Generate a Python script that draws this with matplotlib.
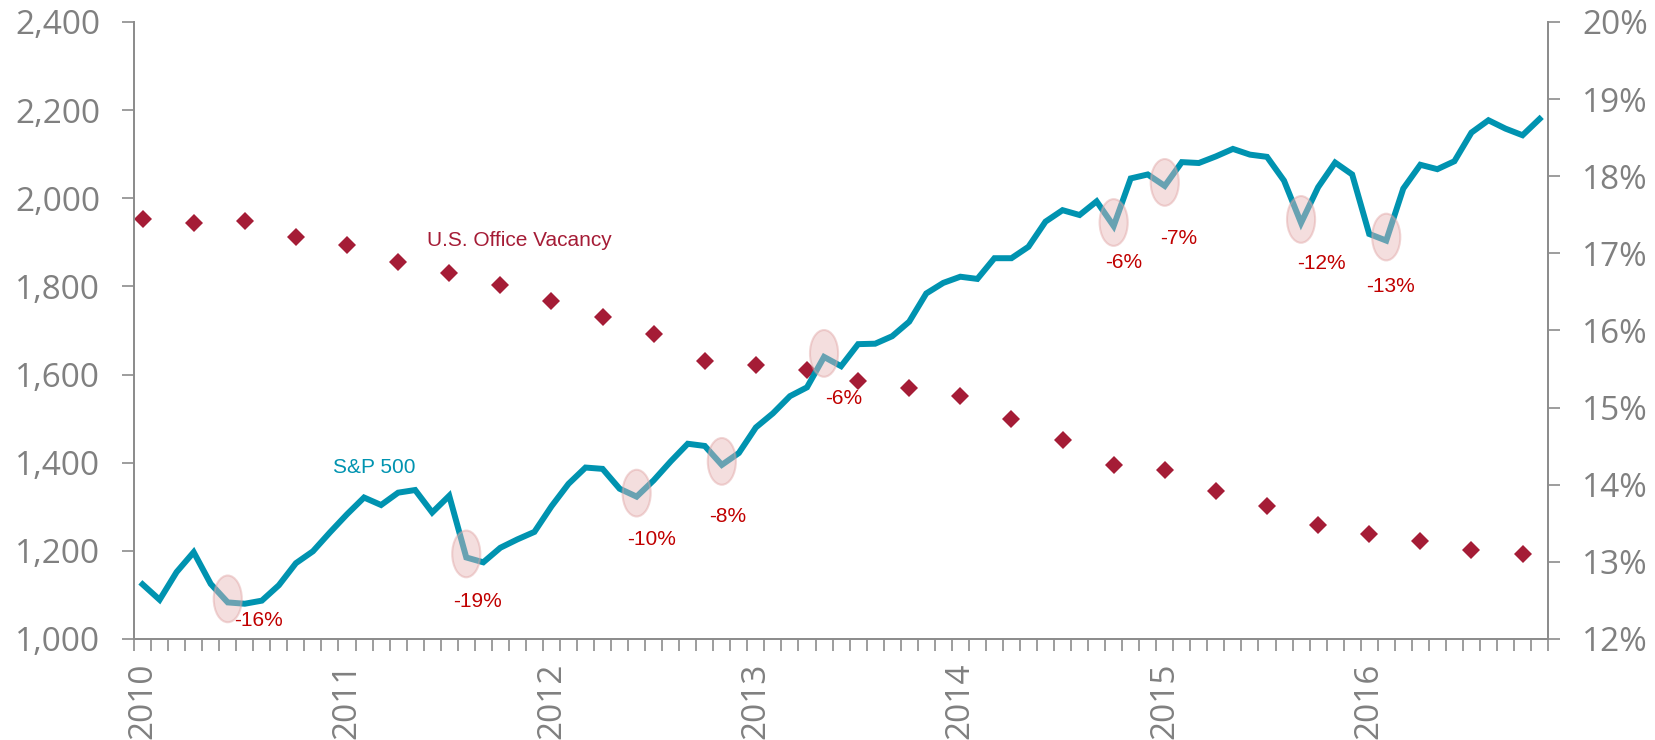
import numpy as np
import matplotlib.pyplot as plt
from matplotlib.patches import Ellipse
from matplotlib.ticker import FuncFormatter

# S&P 500 monthly average, Jan 2010 - Nov 2016
sp500 = [
    1124, 1089, 1152, 1197, 1125, 1083, 1080, 1087, 1122, 1172, 1199, 1242,
    1283, 1321, 1304, 1332, 1338, 1287, 1325, 1185, 1174, 1207, 1226, 1243,
    1301, 1352, 1389, 1386, 1341, 1323, 1360, 1403, 1443, 1438, 1395, 1422,
    1480, 1512, 1551, 1571, 1640, 1619, 1669, 1670, 1687, 1720, 1784, 1808,
    1822, 1817, 1864, 1864, 1890, 1947, 1973, 1962, 1993, 1937, 2045, 2054,
    2028, 2082, 2080, 2095, 2112, 2099, 2094, 2040, 1944, 2025, 2081, 2054,
    1919, 1904, 2022, 2076, 2066, 2084, 2149, 2177, 2158, 2143, 2180,
]

# U.S. office vacancy rate (%), quarterly 2010Q1 - 2016Q4
vacancy = [
    17.44, 17.40, 17.42, 17.21, 17.11, 16.89, 16.75, 16.59, 16.38, 16.18,
    15.95, 15.61, 15.55, 15.49, 15.34, 15.25, 15.15, 14.85, 14.58, 14.26,
    14.19, 13.92, 13.73, 13.48, 13.36, 13.27, 13.15, 13.10,
]

years = ["2010", "2011", "2012", "2013", "2014", "2015", "2016"]

# drawdowns marked on the S&P line (month index of the trough)
dip_months = [5, 19, 29, 34, 40, 57, 60, 68, 73]
dip_labels = ["-16%", "-19%", "-10%", "-8%", "-6%", "-6%", "-7%", "-12%", "-13%"]
label_offsets = [(22, -13), (8, -32), (11, -31), (4, -37), (14, -30),
                 (7, -26), (10, -38), (15, -29), (3, -33)]

teal = "#0093B0"
maroon = "#A51C36"
red = "#C00000"
gray = "#808080"
axis_gray = "#8C8C8C"

months = np.arange(len(sp500)) + 0.5
quarters = np.arange(0, len(sp500), 3)[:len(vacancy)] + 0.5

fig = plt.figure(figsize=(16.55, 7.40), dpi=100)
ax = fig.add_axes([0.081, 0.1365, 0.8544, 0.8338])
ax2 = ax.twinx()

ax.plot(months, sp500, color=teal, lw=4.3, solid_joinstyle="miter", zorder=3)
ax2.plot(quarters, vacancy, ls="none", marker="D", ms=9, color=maroon,
         markeredgewidth=0, zorder=3)

for m, lab, off in zip(dip_months, dip_labels, label_offsets):
    x, y = months[m], sp500[m]
    ax.add_patch(Ellipse((x, y + 8), 1.65, 106, facecolor="#E8B6B6", alpha=0.45,
                         edgecolor="#E0A4A4", lw=1.5, zorder=4))
    ax.annotate(lab, (x, y), xytext=off, textcoords="offset points",
                ha="center", va="center", color=red, fontsize=15,
                family="Liberation Sans", zorder=5)

ax.text(14.1, 1388, "S&P 500", color=teal, fontsize=15, ha="center",
        va="center", family="Liberation Sans")
ax.text(22.6, 1904, "U.S. Office Vacancy", color=maroon, fontsize=15,
        ha="center", va="center", family="Liberation Sans")

ax.set_xlim(0, len(sp500))
ax.set_ylim(1000, 2400)
ax2.set_ylim(12, 20)
ax.set_yticks(np.arange(1000, 2401, 200))
ax2.set_yticks(np.arange(12, 21, 1))
ax.yaxis.set_major_formatter(FuncFormatter(lambda v, p: f"{v:,.0f}"))
ax2.yaxis.set_major_formatter(FuncFormatter(lambda v, p: f"{v:.0f}%"))

ax.set_xticks(np.arange(0, len(sp500) + 1), minor=True)
ax.set_xticks(np.arange(len(years)) * 12 + 0.5)
ax.set_xticklabels(years, rotation=90)

for a in (ax, ax2):
    a.spines["top"].set_visible(False)
    for s in a.spines.values():
        s.set_color(axis_gray)
        s.set_linewidth(1.3)
    a.tick_params(axis="y", length=8.5, width=1.2, color=axis_gray,
                  labelcolor=gray, labelsize=24, pad=16)
    for t in a.get_yticklabels():
        t.set_family("Open Sans")

ax.tick_params(axis="x", which="major", length=0, labelcolor=gray,
               labelsize=24, pad=17)
ax.tick_params(axis="x", which="minor", length=8.5, width=1.2, color=axis_gray)
for t in ax.get_xticklabels():
    t.set_family("Open Sans")

ax.set_zorder(ax2.get_zorder() + 1)
ax.patch.set_visible(False)

fig.savefig("out.png", dpi=100)
